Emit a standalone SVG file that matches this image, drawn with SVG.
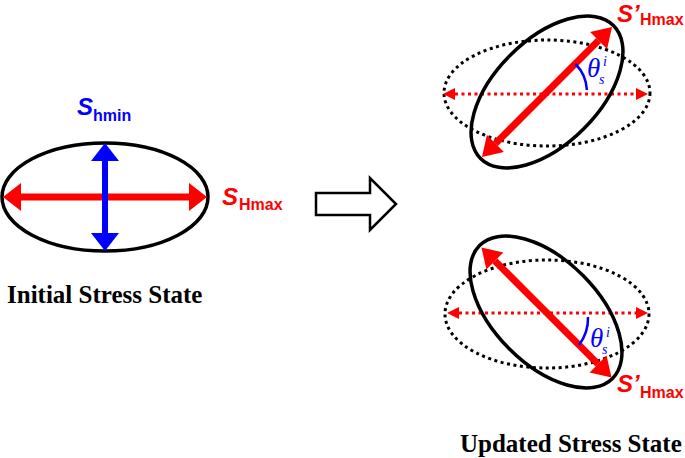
<svg xmlns="http://www.w3.org/2000/svg" width="685" height="458" viewBox="0 0 685 458">
<style>
.ell{fill:none;stroke:#000;stroke-width:3.5}
.dot{fill:none;stroke:#000;stroke-width:3;stroke-dasharray:3 3.5}
.red{stroke:#FF0000;stroke-width:7;fill:none}
.blue{stroke:#0000FF;stroke-width:6;fill:none}
.rdot{stroke:#FF0000;stroke-width:3;stroke-dasharray:3 3.5;fill:none}
.arc{fill:none;stroke:#0000FF;stroke-width:2.5}
.S{font-family:"Liberation Sans",Arial,sans-serif;font-weight:bold;font-style:italic;font-size:24px}
.sub{font-family:"Liberation Sans",Arial,sans-serif;font-weight:bold;font-size:16px}
.th{font-family:"Liberation Serif","Times New Roman",serif;font-style:italic;fill:#0000FF}
.cap{font-family:"Liberation Serif","Times New Roman",serif;font-weight:bold;font-size:25px;fill:#000}
</style>
<defs>
<marker id="hRedL" markerUnits="userSpaceOnUse" markerWidth="18" markerHeight="28" refX="0" refY="14" orient="auto-start-reverse" overflow="visible"><path d="M0,0 L18,14 L0,28 Z" fill="#FF0000"/></marker>
<marker id="hBlue" markerUnits="userSpaceOnUse" markerWidth="18" markerHeight="28" refX="0" refY="14" orient="auto-start-reverse" overflow="visible"><path d="M0,0 L18,14 L0,28 Z" fill="#0000FF"/></marker>
<marker id="hRedR" markerUnits="userSpaceOnUse" markerWidth="19" markerHeight="24" refX="0" refY="12" orient="auto-start-reverse" overflow="visible"><path d="M0,0 L19,12 L0,24 Z" fill="#FF0000"/></marker>
<marker id="hRedS" markerUnits="userSpaceOnUse" markerWidth="12" markerHeight="12" refX="0" refY="6" orient="auto-start-reverse" overflow="visible"><path d="M0,0 L12,6 L0,12 Z" fill="#FF0000"/></marker>
</defs>

<g id="initial-state">
<ellipse class="ell" cx="105" cy="197" rx="103" ry="54"/>
<line class="red" x1="21" y1="197" x2="189" y2="197" marker-start="url(#hRedL)" marker-end="url(#hRedL)"/>
<line class="blue" x1="105" y1="161" x2="105" y2="233" marker-start="url(#hBlue)" marker-end="url(#hBlue)"/>
<text x="77" y="115" fill="#0000FF"><tspan class="S">S</tspan><tspan class="sub" x="93" y="121">hmin</tspan></text>
<text x="222" y="205" fill="#FF0000"><tspan class="S">S</tspan><tspan class="sub" x="239" y="210">Hmax</tspan></text>
<text class="cap" x="7" y="303">Initial Stress State</text>
</g>

<g id="connectors">
<polygon points="316,193 370,193 370,178 396,204 370,230 370,215 316,215" fill="#fff" stroke="#000" stroke-width="2.5" stroke-linejoin="miter"/>
</g>

<g id="updated-top">
<ellipse class="dot" cx="547" cy="93" rx="103" ry="53"/>
<line class="rdot" x1="455" y1="94" x2="636" y2="94" marker-start="url(#hRedS)" marker-end="url(#hRedS)"/>
<ellipse class="ell" cx="547" cy="92" rx="94" ry="52" transform="rotate(-45 547 92)"/>
<line class="red" x1="495.4" y1="143.6" x2="598.6" y2="40.4" marker-start="url(#hRedR)" marker-end="url(#hRedR)"/>
<path class="arc" d="M575.5,64 A40,40 0 0 1 586.9,90"/>
<text class="th" x="587" y="77" font-size="27">θ</text>
<text class="th" x="603" y="66" font-size="14">i</text>
<text class="th" x="599" y="84" font-size="14">s</text>
<text x="617" y="22" fill="#FF0000"><tspan class="S">S’</tspan><tspan class="sub" x="640" y="25">Hmax</tspan></text>
</g>

<g id="updated-bottom">
<ellipse class="dot" cx="547" cy="314" rx="102" ry="54"/>
<line class="rdot" x1="459" y1="313" x2="636" y2="313" marker-start="url(#hRedS)" marker-end="url(#hRedS)"/>
<ellipse class="ell" cx="546" cy="312" rx="94" ry="52" transform="rotate(45 546 312)"/>
<line class="red" x1="494.9" y1="260.9" x2="598.1" y2="364.1" marker-start="url(#hRedR)" marker-end="url(#hRedR)"/>
<path class="arc" d="M588,317 A44,44 0 0 1 579,345"/>
<text class="th" x="590" y="347" font-size="27">θ</text>
<text class="th" x="606" y="337" font-size="14">i</text>
<text class="th" x="602" y="354" font-size="14">s</text>
<text x="617" y="392" fill="#FF0000"><tspan class="S">S’</tspan><tspan class="sub" x="640" y="398">Hmax</tspan></text>
<text class="cap" x="460" y="452">Updated Stress State</text>
</g>
</svg>
